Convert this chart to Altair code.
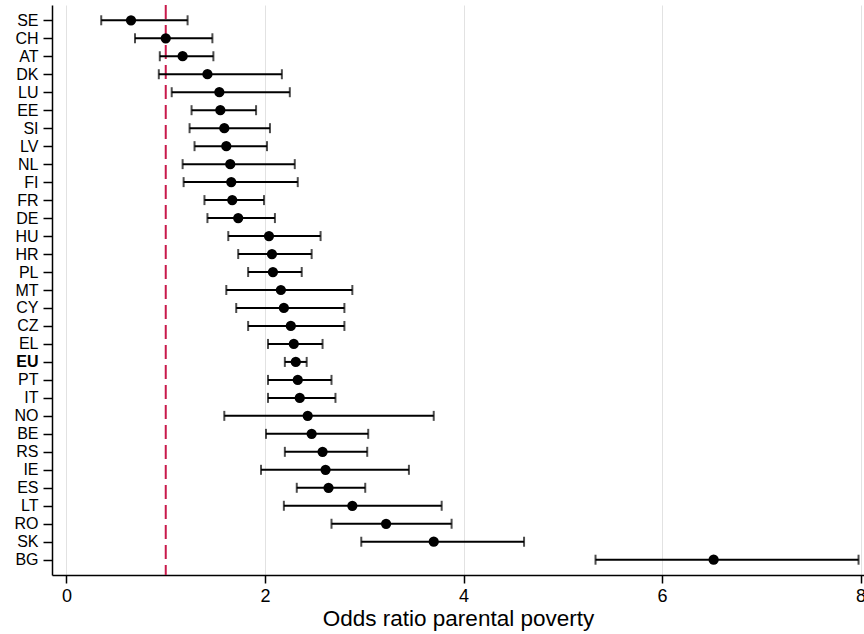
import altair as alt
import pandas as pd

# Country codes, top to bottom
countries = ["SE", "CH", "AT", "DK", "LU", "EE", "SI", "LV", "NL", "FI",
             "FR", "DE", "HU", "HR", "PL", "MT", "CY", "CZ", "EL", "EU",
             "PT", "IT", "NO", "BE", "RS", "IE", "ES", "LT", "RO", "SK", "BG"]

# Odds ratio point estimates
odds = [0.65, 1.00, 1.17, 1.42, 1.54, 1.55, 1.59, 1.61, 1.65, 1.66,
        1.67, 1.73, 2.04, 2.07, 2.08, 2.16, 2.19, 2.26, 2.29, 2.31,
        2.33, 2.35, 2.43, 2.47, 2.58, 2.61, 2.64, 2.88, 3.22, 3.70, 6.52]

# Lower confidence bounds
lower = [0.35, 0.69, 0.94, 0.93, 1.06, 1.26, 1.24, 1.29, 1.17, 1.18,
         1.39, 1.42, 1.63, 1.73, 1.83, 1.61, 1.71, 1.83, 2.03, 2.20,
         2.03, 2.03, 1.59, 2.01, 2.20, 1.96, 2.32, 2.19, 2.67, 2.97, 5.33]

# Upper confidence bounds
upper = [1.22, 1.47, 1.48, 2.17, 2.25, 1.91, 2.05, 2.02, 2.30, 2.33,
         1.99, 2.10, 2.56, 2.47, 2.37, 2.88, 2.80, 2.80, 2.58, 2.42,
         2.67, 2.71, 3.70, 3.04, 3.03, 3.45, 3.01, 3.78, 3.88, 4.61, 7.98]

x_ticks = [0, 2, 4, 6, 8]
reference_value = [1]

df = pd.DataFrame({"country": countries, "odds": odds,
                   "lower": lower, "upper": upper})

FONT = "Liberation Sans"
x_scale = alt.Scale(domain=[-0.146, 8.035], nice=False, zero=False)
y_scale = alt.Scale(domain=countries, type="point", padding=0.85)

base = alt.Chart(df)

y_enc = alt.Y(
    "country:N", scale=y_scale, sort=countries, title=None,
    axis=alt.Axis(
        labelFont=FONT, labelFontSize=16, labelColor="#000000",
        labelFontWeight=alt.ExprRef(
            "datum.value == 'EU' ? 'bold' : 'normal'"),
        tickColor="#000000", tickSize=9, tickWidth=1.5,
        domainColor="#000000", domainWidth=1.5, labelPadding=5,
        grid=False,
    ),
)

x_axis = alt.Axis(
    values=x_ticks, format="d",
    labelFont=FONT, labelFontSize=18, labelColor="#000000",
    title="Odds ratio parental poverty", titleFont=FONT, titleFontSize=22.5,
    titleFontWeight="normal", titleColor="#000000", titlePadding=2,
    tickColor="#000000", tickSize=8, tickWidth=1.5,
    domainColor="#000000", domainWidth=1.5, labelPadding=4,
    grid=True, gridColor="#e2e2e2", gridWidth=1,
)

# Vertical reference line at odds ratio 1
ref = alt.Chart(pd.DataFrame({"v": reference_value})).mark_rule(
    color="#c8194b", strokeWidth=2, strokeDash=[14, 6]
).encode(x=alt.X("v:Q", scale=x_scale, axis=x_axis))

# Confidence interval bars
bars = base.mark_rule(color="#000000", strokeWidth=2).encode(
    x=alt.X("lower:Q", scale=x_scale, axis=x_axis), x2="upper:Q", y=y_enc
)

caps_lo = base.mark_tick(color="#000000", thickness=2, size=10,
                         orient="vertical").encode(
    x=alt.X("lower:Q", scale=x_scale), y=y_enc)
caps_hi = base.mark_tick(color="#000000", thickness=2, size=10,
                         orient="vertical").encode(
    x=alt.X("upper:Q", scale=x_scale), y=y_enc)

points = base.mark_circle(color="#000000", size=105, opacity=1).encode(
    x=alt.X("odds:Q", scale=x_scale), y=y_enc
)

chart = alt.layer(ref, bars, caps_lo, caps_hi, points).properties(
    width=812, height=570,
    padding={"left": 52, "top": 5, "right": 0, "bottom": 59},
    autosize=alt.AutoSizeParams(type="none"),
    background="#ffffff",
).configure_view(stroke=None)

chart.save("out.html", embed_options={"renderer": "svg", "actions": False})
